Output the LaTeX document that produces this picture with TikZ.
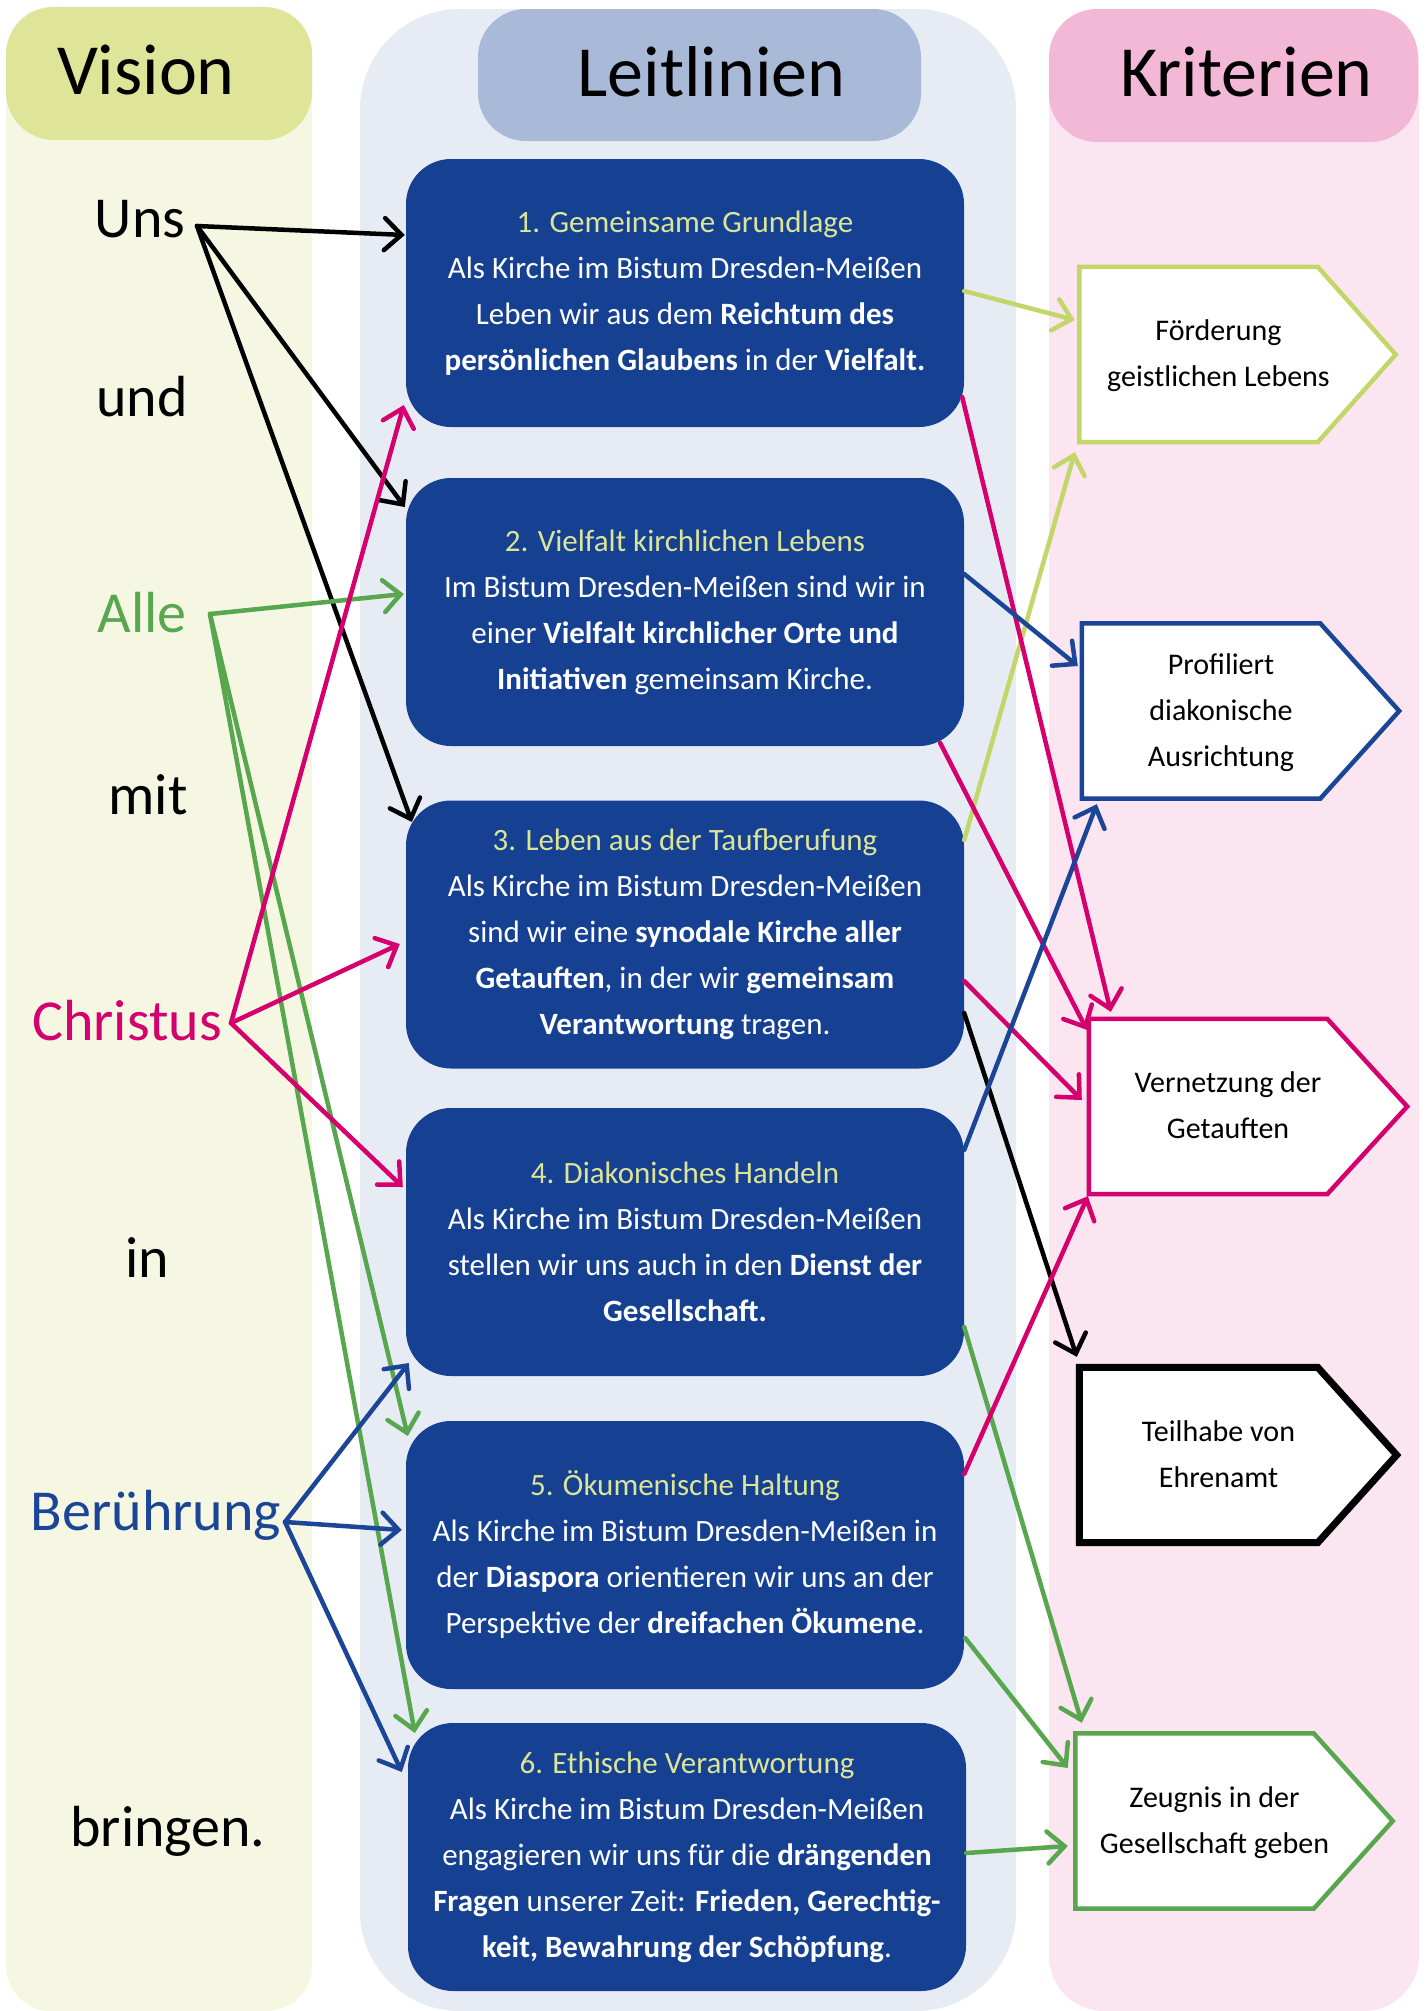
\documentclass[tikz,border=0pt]{standalone}
\usepackage{fontspec}
\setmainfont{Carlito}
\usetikzlibrary{arrows.meta,calc}
\definecolor{visHead}{HTML}{DFE598}
\definecolor{visBg}{HTML}{F5F7E3}
\definecolor{leitHead}{HTML}{A9B9D8}
\definecolor{leitBg}{HTML}{E7ECF4}
\definecolor{kritHead}{HTML}{F2B8D6}
\definecolor{kritBg}{HTML}{FAE5F0}
\definecolor{boxBlue}{HTML}{164193}
\definecolor{titleC}{HTML}{DCE597}
\definecolor{gAlle}{HTML}{58A74F}
\definecolor{lGreen}{HTML}{C2D66A}
\definecolor{mag}{HTML}{D5006D}
\definecolor{blueA}{HTML}{1B4596}
\pgfdeclarelayer{back}
\pgfdeclarelayer{mid}
\pgfsetlayers{back,mid,main}
\newcommand\ttl[1]{\textcolor{titleC}{#1}}
\newcommand\kt[1]{\hspace*{40pt}\makebox[0pt]{\begin{tabular}{@{}c@{}}#1\end{tabular}}}
\newcommand\shr[2]{\hspace*{#1}\makebox[0pt]{\raisebox{8pt}{#2}}}
\newcommand\shl[2]{\makebox[0pt]{\raisebox{8pt}{#2}}\hspace*{#1}}
\begin{document}
\begin{tikzpicture}[x=1pt,y=-1pt,
  bbox/.style={rectangle, rounded corners=45pt, fill=boxBlue, text=white, minimum width=558pt, minimum height=268pt, inner sep=0pt, align=center, font=\fontsize{31pt}{46pt}\selectfont},
  kbox/.style={rectangle, inner sep=0pt, minimum width=238pt, minimum height=175pt, font=\fontsize{30pt}{46pt}\selectfont},
  kline/.style={fill=white, line width=4.5pt, line join=miter},
  word/.style={anchor=base, font=\fontsize{58pt}{60pt}\selectfont},
  head/.style={rectangle, rounded corners=48pt, inner sep=0pt, font=\fontsize{72pt}{80pt}\selectfont},
  arr/.style={-{Straight Barb[length=17pt,width=32pt,line cap=round]}, line width=4.5pt, line cap=round},
]
\useasboundingbox (0,0) rectangle (1427,2011);
\begin{pgfonlayer}{back}
  \fill[white] (0,0) rectangle (1427,2011);
  \fill[visBg, rounded corners=45pt] (6,7) rectangle (312,2011);
  \fill[leitBg, rounded corners=100pt] (360,9) rectangle (1016,2011);
  \fill[kritBg, rounded corners=55pt] (1049,9) rectangle (1419,2011);
\end{pgfonlayer}

% headers
\node[head, fill=visHead, minimum width=306pt, minimum height=133pt] (hv) at (159,73.5) {\shl{26pt}{Vision}};
\node[head, fill=leitHead, minimum width=443pt, minimum height=132pt] (hl) at (699.5,75) {\shr{24pt}{Leitlinien}};
\node[head, fill=kritHead, minimum width=369pt, minimum height=133pt] (hk) at (1233.5,75.5) {\shr{26pt}{Kriterien}};

% vision words
\node[word] (uns) at (140,237) {Uns};
\node[word] (und) at (142,416) {und};
\node[word, text=gAlle] (alle) at (142,632) {Alle};
\node[word] (mit) at (148,814) {mit};
\node[word, text=mag] (chr) at (127,1040) {Christus};
\node[word] (in) at (147,1277) {in};
\node[word, text=blueA] (ber) at (156,1530) {Berührung};
\node[word] (bri) at (168,1846) {bringen.};
\coordinate (unsP) at (197,226);
\coordinate (alleP) at (210,614);
\coordinate (chrP) at (231,1023);
\coordinate (berP) at (285,1522);

% Leitlinien boxes
\node[bbox] (b1) at (685,293) {\ttl{1. Gemeinsame Grundlage}\\
Als Kirche im Bistum Dresden-Meißen\\
Leben wir aus dem \textbf{Reichtum des}\\
\textbf{persönlichen Glaubens} in der \textbf{Vielfalt.}};
\node[bbox] (b2) at (685,612) {\ttl{2. Vielfalt kirchlichen Lebens}\\
Im Bistum Dresden-Meißen sind wir in\\
einer \textbf{Vielfalt kirchlicher Orte und}\\
\textbf{Initiativen} gemeinsam Kirche.};
\node[bbox] (b3) at (685,934.5) {\ttl{3. Leben aus der Taufberufung}\\
Als Kirche im Bistum Dresden-Meißen\\
sind wir eine \textbf{synodale Kirche aller}\\
\textbf{Getauften}, in der wir \textbf{gemeinsam}\\
\textbf{Verantwortung} tragen.};
\node[bbox] (b4) at (685,1242) {\ttl{4. Diakonisches Handeln}\\
Als Kirche im Bistum Dresden-Meißen\\
stellen wir uns auch in den \textbf{Dienst der}\\
\textbf{Gesellschaft.}};
\node[bbox] (b5) at (685,1555) {\ttl{5. Ökumenische Haltung}\\
Als Kirche im Bistum Dresden-Meißen in\\
der \textbf{Diaspora} orientieren wir uns an der\\
Perspektive der \textbf{dreifachen Ökumene}.};
\node[bbox] (b6) at (687,1857) {\ttl{6. Ethische Verantwortung}\\
Als Kirche im Bistum Dresden-Meißen\\
engagieren wir uns für die \textbf{drängenden}\\
\textbf{Fragen} unserer Zeit: \textbf{Frieden, Gerechtig-}\\
\textbf{keit, Bewahrung der Schöpfung}.};

% Kriterien
\node[kbox] (k1) at (1198.5,354.5) {\kt{Förderung\\geistlichen Lebens}};
\node[kbox] (k2) at (1201,711) {\kt{Profiliert\\diakonische\\Ausrichtung}};
\node[kbox] (k3) at (1208,1106.5) {\kt{Vernetzung der\\Getauften}};
\node[kbox] (k4) at (1198.5,1455) {\kt{Teilhabe von\\Ehrenamt}};
\node[kbox] (k5) at (1194.5,1821) {\kt{Zeugnis in der\\Gesellschaft geben}};
\begin{pgfonlayer}{mid}
  \draw[kline, draw=lGreen] (k1.north west) -- (k1.north east) -- ($(k1.east)+(78,0)$) -- (k1.south east) -- (k1.south west) -- cycle;
  \draw[kline, draw=blueA] (k2.north west) -- (k2.north east) -- ($(k2.east)+(79,0)$) -- (k2.south east) -- (k2.south west) -- cycle;
  \draw[kline, draw=mag] (k3.north west) -- (k3.north east) -- ($(k3.east)+(80,0)$) -- (k3.south east) -- (k3.south west) -- cycle;
  \draw[kline, draw=black, line width=7pt] (k4.north west) -- (k4.north east) -- ($(k4.east)+(79,0)$) -- (k4.south east) -- (k4.south west) -- cycle;
  \draw[kline, draw=gAlle] (k5.north west) -- (k5.north east) -- ($(k5.east)+(79,0)$) -- (k5.south east) -- (k5.south west) -- cycle;
\end{pgfonlayer}

% arrows: black
\draw[arr, black] (unsP) -- ($(b1.west)+(-1,-58)$);
\draw[arr, black] (unsP) -- ($(b2.west)+(-1,-105)$);
\draw[arr, black] (unsP) -- ($(b3.west)+(6,-112.5)$);
\draw[arr, black] ($(b3.east)+(0,78.5)$) -- ($(k4.north west)+(-2.5,-10.5)$);
% green
\draw[arr, gAlle] (alleP) -- ($(b2.west)+(-2,-18)$);
\draw[arr, gAlle] (alleP) -- ($(b5.west)+(2,-119)$);
\draw[arr, gAlle] (alleP) -- ($(b6.west)+(7,-124)$);
\draw[arr, gAlle] ($(b4.east)+(0,85)$) -- ($(k5.north west)+(6.5,-10.5)$);
\draw[arr, gAlle] ($(b5.east)+(1,83)$) -- ($(k5.west)+(-7.5,-53)$);
\draw[arr, gAlle] ($(b6.east)+(0,-4)$) -- ($(k5.west)+(-7.5,25)$);
% light green
\draw[arr, lGreen] ($(b1.east)+(0,-2)$) -- ($(k1.west)+(-4.5,-34.5)$);
\draw[arr, lGreen] ($(b3.east)+(0,-94.5)$) -- ($(k1.south west)+(-4.5,10)$);
% magenta
\draw[arr, mag] (chrP) -- ($(b1.west)+(-2,112)$);
\draw[arr, mag] (chrP) -- ($(b3.west)+(-6,9.5)$);
\draw[arr, mag] (chrP) -- ($(b4.west)+(-3,-55)$);
\draw[arr, mag] ($(b1.east)+(-2,104)$) -- ($(k3.north west)+(22,-7)$);
\draw[arr, mag] ($(b2.east)+(-24,131)$) -- ($(k3.north west)+(-2,11)$);
\draw[arr, mag] ($(b3.east)+(0,46.5)$) -- ($(k3.west)+(-7,-6.5)$);
\draw[arr, mag] ($(b5.east)+(0,-81)$) -- ($(k3.south west)+(-1,2)$);
% blue
\draw[arr, blueA] (berP) -- ($(b4.west)+(3,121)$);
\draw[arr, blueA] (berP) -- ($(b5.west)+(-4,-25)$);
\draw[arr, blueA] (berP) -- ($(b6.west)+(-6,-85)$);
\draw[arr, blueA] ($(b2.east)+(0,-38)$) -- ($(k2.west)+(-4,-45)$);
\draw[arr, blueA] ($(b4.east)+(0,-92)$) -- ($(k2.south west)+(15,5.5)$);
\end{tikzpicture}
\end{document}
